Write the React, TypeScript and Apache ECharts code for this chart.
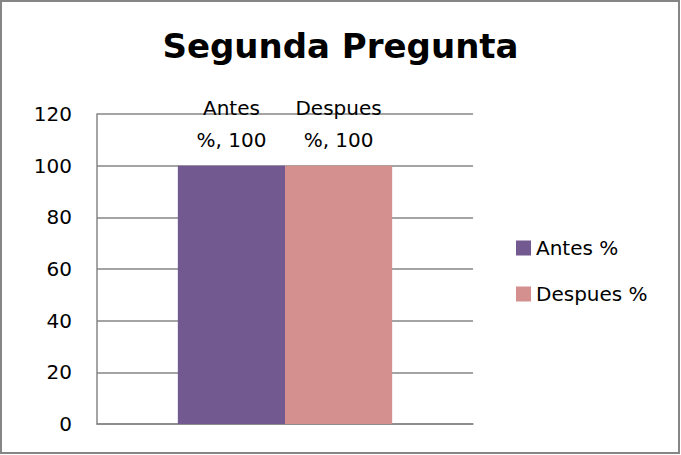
import React, { useEffect, useRef } from "react";
import * as echarts from "echarts";

const categories = [""];
const seriesNames = ["Antes %", "Despues %"];
const antesValues = [100];
const despuesValues = [100];
const seriesColors = ["#72598F", "#D48F8F"];
const yTicks = { min: 0, max: 120, interval: 20 };
const titleText = "Segunda Pregunta";

const FONT = "'DejaVu Sans', 'Open Sans', sans-serif";

export default function App() {
  const ref = useRef<HTMLDivElement>(null);
  useEffect(() => {
    document.body.style.margin = "0";
    const chart = echarts.init(ref.current!, null, { renderer: "svg" });
    const labelCfg = {
      show: true,
      position: "top",
      distance: 10,
      color: "#000",
      fontFamily: FONT,
      fontSize: 20,
      lineHeight: 32,
      formatter: (p: any) => `${p.seriesName.replace(" ", "\n")}, ${p.value}`,
    };
    const values = [antesValues, despuesValues];
    chart.setOption({
      animation: false,
      backgroundColor: "#fff",
      textStyle: { fontFamily: FONT },
      title: {
        text: titleText,
        left: "center",
        top: 24,
        textStyle: { fontFamily: FONT, fontSize: 34, fontWeight: "bold", color: "#000" },
      },
      grid: { left: 97, right: 208, top: 114, bottom: 31, containLabel: false },
      xAxis: {
        type: "category",
        data: categories,
        axisLine: { show: true, lineStyle: { color: "#868686", width: 1.5 } },
        axisTick: { show: false },
        axisLabel: { show: false },
      },
      yAxis: {
        type: "value",
        min: yTicks.min,
        max: yTicks.max,
        interval: yTicks.interval,
        axisLine: { show: true, lineStyle: { color: "#868686", width: 1.5 } },
        axisTick: { show: false },
        axisLabel: { color: "#000", fontFamily: FONT, fontSize: 20, margin: 25 },
        splitLine: { show: true, lineStyle: { color: "#868686", width: 1.5 } },
      },
      legend: {
        orient: "vertical",
        left: 511,
        top: 233,
        itemWidth: 15,
        itemHeight: 15,
        itemGap: 26,
        icon: "rect",
        textStyle: { color: "#000", fontFamily: FONT, fontSize: 20 },
        data: seriesNames,
      },
      series: seriesNames.map((name, i) => ({
        name,
        type: "bar",
        data: values[i],
        barGap: "0%",
        barCategoryGap: "43%",
        itemStyle: { color: seriesColors[i] },
        label: labelCfg,
      })),
      graphic: [
        {
          type: "rect",
          shape: { x: 1, y: 1, width: 678, height: 452 },
          style: { fill: "none", stroke: "#868686", lineWidth: 2 },
          silent: true,
        },
      ],
    });
    return () => chart.dispose();
  }, []);
  return <div ref={ref} style={{ width: 681, height: 455 }} />;
}
